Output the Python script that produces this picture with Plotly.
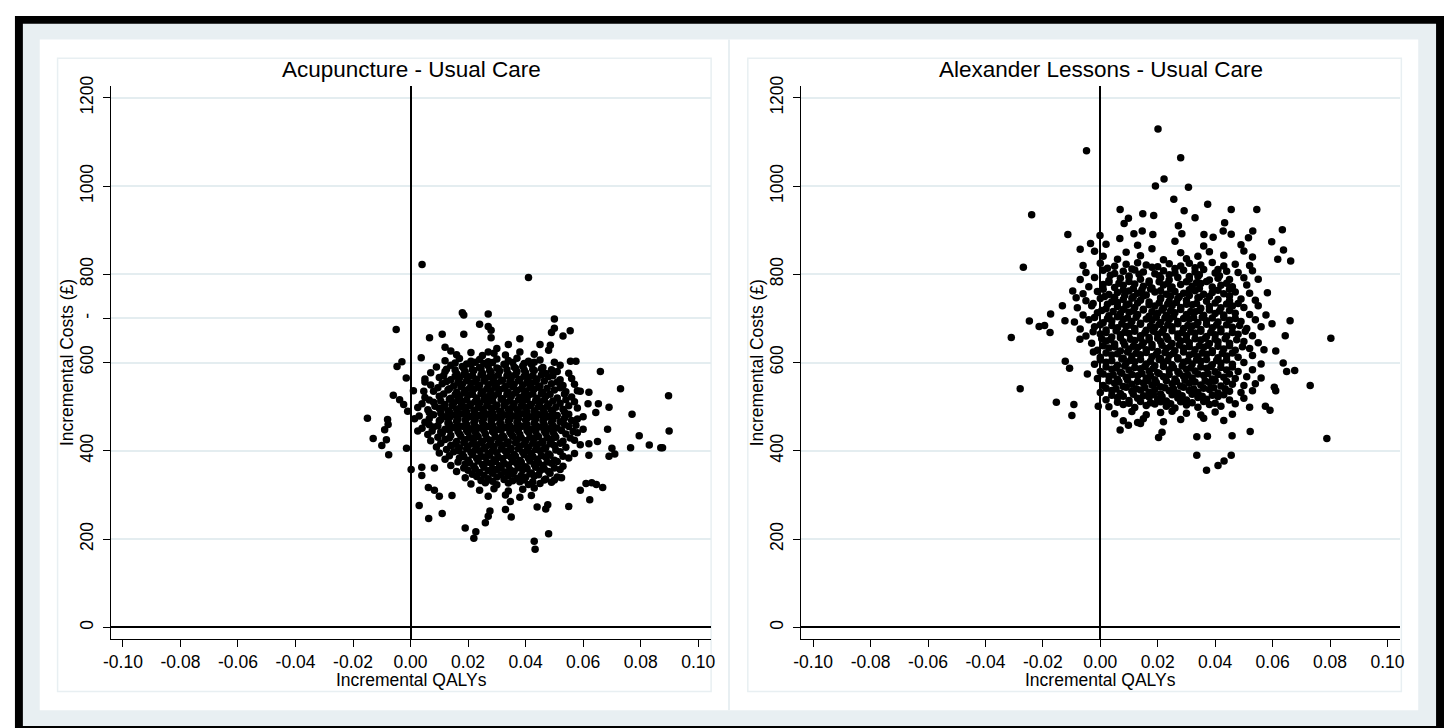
import plotly.graph_objects as go

# ---------------- data ----------------
x_tick_vals = [-0.10, -0.08, -0.06, -0.04, -0.02, 0.00, 0.02, 0.04, 0.06, 0.08, 0.10]
x_tick_text = ["-0.10", "-0.08", "-0.06", "-0.04", "-0.02", "0.00", "0.02", "0.04", "0.06", "0.08", "0.10"]
y_tick_vals_left = [0, 200, 400, 600, 700, 800, 1000, 1200]
y_tick_text_left = ["0", "200", "400", "600", "-", "800", "1000", "1200"]
y_tick_vals_right = [0, 200, 400, 600, 800, 1000, 1200]
y_tick_text_right = ["0", "200", "400", "600", "800", "1000", "1200"]

panel_titles = ["Acupuncture - Usual Care", "Alexander Lessons - Usual Care"]
x_title = "Incremental QALYs"
y_title = "Incremental Costs (£)"

# Acupuncture - Usual Care : incremental QALYs
acu_x = [
    0.016, 0.021, 0.025, 0.029, 0.033, 0.038, 0.043,
    0.012, 0.017, 0.021, 0.024, 0.027, 0.030, 0.034, 0.037, 0.041, 0.045, 0.050,
    0.009, 0.014, 0.018, 0.021, 0.024, 0.027, 0.030, 0.033, 0.036, 0.039, 0.042, 0.046, 0.052,
    0.007, 0.012, 0.016, 0.019, 0.022, 0.025, 0.028, 0.031, 0.034, 0.037, 0.040, 0.043, 0.047, 0.051, 0.055,
    0.005, 0.010, 0.014, 0.017, 0.020, 0.023, 0.026, 0.029, 0.032, 0.035, 0.038, 0.041, 0.044, 0.048, 0.052, 0.056,
    0.007, 0.011, 0.015, 0.018, 0.021, 0.024, 0.027, 0.030, 0.033, 0.036, 0.039, 0.042, 0.045, 0.049, 0.053, 0.057,
    0.008, 0.013, 0.016, 0.019, 0.022, 0.025, 0.028, 0.031, 0.034, 0.037, 0.040, 0.043, 0.046, 0.050, 0.054, 0.058,
    0.005, 0.010, 0.014, 0.017, 0.020, 0.023, 0.026, 0.029, 0.032, 0.035, 0.038, 0.041, 0.044, 0.047, 0.051, 0.056,
    0.004, 0.008, 0.012, 0.015, 0.018, 0.021, 0.024, 0.027, 0.030, 0.033, 0.036, 0.039, 0.042, 0.045, 0.048, 0.052, 0.057,
    0.006, 0.010, 0.013, 0.016, 0.019, 0.022, 0.025, 0.028, 0.031, 0.034, 0.037, 0.040, 0.043, 0.046, 0.049, 0.053, 0.058,
    0.003, 0.008, 0.012, 0.015, 0.018, 0.021, 0.024, 0.027, 0.030, 0.033, 0.036, 0.039, 0.042, 0.045, 0.048, 0.051, 0.055, 0.060,
    0.005, 0.010, 0.013, 0.016, 0.019, 0.022, 0.025, 0.028, 0.031, 0.034, 0.037, 0.040, 0.043, 0.046, 0.049, 0.052, 0.056,
    0.004, 0.008, 0.012, 0.015, 0.018, 0.021, 0.024, 0.027, 0.030, 0.033, 0.036, 0.039, 0.042, 0.045, 0.048, 0.051, 0.055, 0.060,
    0.006, 0.011, 0.014, 0.017, 0.020, 0.023, 0.026, 0.029, 0.032, 0.035, 0.038, 0.041, 0.044, 0.047, 0.050, 0.054, 0.058,
    0.007, 0.012, 0.016, 0.019, 0.022, 0.025, 0.028, 0.031, 0.034, 0.037, 0.040, 0.043, 0.046, 0.049, 0.053, 0.057,
    0.009, 0.014, 0.017, 0.020, 0.023, 0.026, 0.029, 0.032, 0.035, 0.038, 0.041, 0.044, 0.047, 0.050, 0.054,
    0.010, 0.015, 0.018, 0.021, 0.024, 0.027, 0.030, 0.033, 0.036, 0.039, 0.042, 0.045, 0.048, 0.052, 0.057,
    0.012, 0.017, 0.020, 0.023, 0.026, 0.029, 0.032, 0.035, 0.038, 0.041, 0.044, 0.047, 0.050, 0.055,
    0.014, 0.019, 0.022, 0.025, 0.028, 0.031, 0.034, 0.037, 0.040, 0.043, 0.046, 0.049, 0.053,
    0.016, 0.020, 0.024, 0.027, 0.030, 0.033, 0.036, 0.039, 0.042, 0.045, 0.048, 0.052,
    0.019, 0.023, 0.027, 0.030, 0.034, 0.037, 0.040, 0.043, 0.047, 0.051,
    0.021, 0.026, 0.030, 0.034, 0.038, 0.041, 0.045, 0.049,
    0.024, 0.029, 0.034, 0.039, 0.043,
    0.027, 0.033, 0.038, 0.042,
    # interleaved core
    0.0155, 0.0195, 0.0225, 0.0255, 0.0285, 0.0325, 0.0355, 0.0395, 0.043,
    0.0125, 0.0155, 0.0185, 0.0215, 0.0245, 0.0275, 0.0305, 0.0335, 0.0365, 0.0395, 0.0425, 0.0455, 0.049,
    0.0115, 0.0155, 0.0185, 0.0215, 0.0245, 0.0275, 0.0305, 0.0335, 0.0365, 0.0395, 0.0425, 0.0455, 0.0495,
    0.0125, 0.0165, 0.0195, 0.0225, 0.0255, 0.0285, 0.0315, 0.0345, 0.0375, 0.0405, 0.0435, 0.0465, 0.051,
    0.0095, 0.0135, 0.0175, 0.0205, 0.0235, 0.0265, 0.0295, 0.0325, 0.0355, 0.0385, 0.0415, 0.0445, 0.0475, 0.052,
    0.0115, 0.0155, 0.0185, 0.0215, 0.0245, 0.0275, 0.0305, 0.0335, 0.0365, 0.0395, 0.0425, 0.0455, 0.0485, 0.0535,
    0.0065, 0.0105, 0.0135, 0.0165, 0.0195, 0.0225, 0.0255, 0.0285, 0.0315, 0.0345, 0.0375, 0.0405, 0.0435, 0.0465, 0.0495, 0.054,
    0.0085, 0.0115, 0.0145, 0.0175, 0.0205, 0.0235, 0.0265, 0.0295, 0.0325, 0.0355, 0.0385, 0.0415, 0.0445, 0.0475, 0.0505, 0.055,
    0.0065, 0.0105, 0.0135, 0.0165, 0.0195, 0.0225, 0.0255, 0.0285, 0.0315, 0.0345, 0.0375, 0.0405, 0.0435, 0.0465, 0.0495, 0.0535,
    0.0065, 0.0105, 0.0135, 0.0165, 0.0195, 0.0225, 0.0255, 0.0285, 0.0315, 0.0345, 0.0375, 0.0405, 0.0435, 0.0465, 0.0495, 0.0535, 0.058,
    0.0065, 0.0095, 0.0135, 0.0165, 0.0195, 0.0225, 0.0255, 0.0285, 0.0315, 0.0345, 0.0375, 0.0405, 0.0435, 0.0465, 0.0495, 0.0535, 0.0575,
    0.0075, 0.0105, 0.0135, 0.0165, 0.0195, 0.0225, 0.0255, 0.0285, 0.0315, 0.0345, 0.0375, 0.0405, 0.0435, 0.0465, 0.0495, 0.0525, 0.0565,
    0.0095, 0.0135, 0.0175, 0.0205, 0.0235, 0.0265, 0.0295, 0.0325, 0.0355, 0.0385, 0.0415, 0.0445, 0.0475, 0.0505, 0.0555,
    0.0105, 0.0155, 0.0185, 0.0215, 0.0245, 0.0275, 0.0305, 0.0335, 0.0365, 0.0395, 0.0425, 0.0455, 0.0485, 0.052,
    0.0125, 0.0165, 0.0195, 0.0225, 0.0255, 0.0285, 0.0315, 0.0345, 0.0375, 0.0405, 0.0435, 0.0465, 0.0505,
    0.0135, 0.0185, 0.0215, 0.0245, 0.0275, 0.0305, 0.0335, 0.0365, 0.0395, 0.0425, 0.0455, 0.0485, 0.053,
    0.0165, 0.0205, 0.0235, 0.0265, 0.0295, 0.0325, 0.0355, 0.0385, 0.0415, 0.0445, 0.0475, 0.051,
    0.0185, 0.0225, 0.0255, 0.0285, 0.0315, 0.0345, 0.0375, 0.0405, 0.0435, 0.0465, 0.050,
    0.0215, 0.0255, 0.0285, 0.0315, 0.0355, 0.0385, 0.0415, 0.0445, 0.0485,
    0.0245, 0.0285, 0.0325, 0.0355, 0.0395, 0.0425, 0.0465,
    # scattered points
    0.004, 0.041, 0.018, 0.0185, 0.027, -0.005, 0.050, 0.050, 0.049, 0.053,
    0.0555, 0.024, 0.027, 0.028, 0.028, 0.0066, 0.011, 0.0185, 0.038, -0.003,
    -0.0047, 0.0037, -0.0015, -0.006, -0.015, -0.013, -0.010, -0.0076, -0.008, -0.0078,
    -0.009, -0.0084, -0.0038, -0.0024, -0.001, -0.0014, 0.0002, 0.066, 0.073, 0.0897,
    0.0899, 0.077, 0.0795, 0.0765, 0.083, 0.087, 0.0876, 0.069, 0.0685, 0.070,
    0.069, 0.071, 0.065, 0.0668, 0.0623, 0.059, 0.061, 0.063, 0.0646, 0.055,
    0.048, 0.043, 0.0433, 0.019, 0.0227, 0.022, 0.026, 0.027, 0.0276, 0.0063,
    0.011, 0.003, 0.0144, 0.010, 0.0062, 0.0083, 0.0039, 0.0039, 0.0083, 0.035,
    0.033, 0.0347, 0.044, 0.047, 0.0477, 0.050, 0.0525, 0.062, 0.059, 0.062,
    0.059, 0.062, 0.0617, 0.0644, 0.0653, 0.0575, 0.0556, 0.045, 0.0486, 0.048,
    0.034, 0.030, 0.027, 0.012, 0.014, 0.005, 0.0046, 0.001, 0.0025, 0.0014, 0.0025,
]
# Acupuncture - Usual Care : incremental costs (£)
acu_y = [
    618, 623, 616, 621, 617, 624, 619,
    604, 609, 603, 607, 602, 608, 605, 610, 603, 606, 601,
    590, 594, 591, 596, 589, 593, 588, 595, 590, 592, 596, 589, 594,
    577, 580, 575, 579, 582, 576, 578, 581, 574, 579, 577, 582, 575, 580, 576,
    563, 566, 561, 565, 568, 562, 564, 567, 560, 565, 562, 566, 563, 568, 561, 564,
    549, 552, 547, 551, 554, 548, 550, 553, 546, 551, 549, 554, 547, 552, 548, 551,
    535, 538, 533, 537, 540, 534, 536, 539, 532, 537, 535, 540, 533, 538, 534, 536,
    521, 524, 519, 523, 526, 520, 522, 525, 518, 523, 521, 526, 519, 524, 520, 522,
    507, 510, 505, 509, 512, 506, 508, 511, 504, 509, 507, 512, 505, 510, 506, 508, 511,
    493, 496, 491, 495, 498, 492, 494, 497, 490, 495, 493, 498, 491, 496, 492, 494, 497,
    479, 482, 477, 481, 484, 478, 480, 483, 476, 481, 479, 484, 477, 482, 478, 480, 483, 477,
    465, 468, 463, 467, 470, 464, 466, 469, 462, 467, 465, 470, 463, 468, 464, 466, 469,
    451, 454, 449, 453, 456, 450, 452, 455, 448, 453, 451, 456, 449, 454, 450, 452, 455, 449,
    437, 440, 435, 439, 442, 436, 438, 441, 434, 439, 437, 442, 435, 440, 436, 438, 441,
    423, 426, 421, 425, 428, 422, 424, 427, 420, 425, 423, 428, 421, 426, 422, 424,
    409, 412, 407, 411, 414, 408, 410, 413, 406, 411, 409, 414, 407, 412, 408,
    395, 398, 393, 397, 400, 394, 396, 399, 392, 397, 395, 400, 393, 398, 394,
    381, 384, 379, 383, 386, 380, 382, 385, 378, 383, 381, 386, 379, 384,
    367, 370, 365, 369, 372, 366, 368, 371, 364, 369, 367, 372, 365,
    353, 356, 351, 355, 358, 352, 354, 357, 350, 355, 353, 358,
    339, 342, 337, 341, 344, 338, 340, 343, 336, 341,
    325, 328, 323, 327, 330, 324, 326, 329,
    311, 314, 309, 313, 316,
    297, 300, 295, 299,
    # interleaved core
    599, 597, 601, 598, 600, 596, 600, 598, 601,
    585, 583, 587, 584, 586, 582, 586, 584, 587, 583, 585, 586, 584,
    571, 569, 573, 570, 572, 568, 572, 570, 573, 569, 571, 572, 570,
    557, 555, 559, 556, 558, 554, 558, 556, 559, 555, 557, 558, 556,
    543, 541, 545, 542, 544, 540, 544, 542, 545, 541, 543, 544, 542, 543,
    529, 527, 531, 528, 530, 526, 530, 528, 531, 527, 529, 530, 528, 529,
    515, 513, 517, 514, 516, 512, 516, 514, 517, 513, 515, 516, 514, 515, 513, 516,
    501, 499, 503, 500, 502, 498, 502, 500, 503, 499, 501, 502, 500, 501, 499, 502,
    487, 485, 489, 486, 488, 484, 488, 486, 489, 485, 487, 488, 486, 487, 485, 488,
    473, 471, 475, 472, 474, 470, 474, 472, 475, 471, 473, 474, 472, 473, 471, 474, 472,
    459, 457, 461, 458, 460, 456, 460, 458, 461, 457, 459, 460, 458, 459, 457, 460, 458,
    445, 443, 447, 444, 446, 442, 446, 444, 447, 443, 445, 446, 444, 445, 443, 446, 444,
    431, 429, 433, 430, 432, 428, 432, 430, 433, 429, 431, 432, 430, 431, 429,
    417, 415, 419, 416, 418, 414, 418, 416, 419, 415, 417, 418, 416, 417,
    403, 401, 405, 402, 404, 400, 404, 402, 405, 401, 403, 404, 402,
    389, 387, 391, 388, 390, 386, 390, 388, 391, 387, 389, 390, 388,
    375, 373, 377, 374, 376, 372, 376, 374, 377, 373, 375, 376,
    361, 359, 363, 360, 362, 358, 362, 360, 363, 359, 361,
    347, 345, 349, 346, 348, 344, 348, 346, 349,
    333, 331, 335, 332, 334, 330, 334,
    # scattered points
    822, 793, 713, 708, 710, 675, 699, 678, 668, 660,
    672, 687, 682, 673, 656, 656, 664, 664, 654, 602,
    591, 611, 565, 526, 474, 428, 412, 391, 471, 460,
    448, 425, 516, 505, 490, 406, 358, 580, 541, 525,
    445, 483, 434, 407, 413, 407, 407, 499, 449, 406,
    388, 393, 421, 317, 289, 311, 326, 328, 324, 274,
    212, 195, 177, 225, 217, 202, 237, 252, 264, 247,
    258, 276, 299, 297, 317, 311, 363, 344, 361, 250,
    267, 285, 273, 268, 278, 334, 339, 390, 414, 416,
    535, 533, 507, 487, 507, 603, 603, 641, 639, 628,
    641, 632, 624, 635, 626, 556, 535, 536, 498, 473, 445,
]

# Alexander Lessons - Usual Care : incremental QALYs
alx_x = [
    0.002, 0.013, 0.026, 0.036, 0.049,
    -0.002, 0.009, 0.018, 0.028, 0.038, 0.050,
    0.001, 0.006, 0.014, 0.022, 0.030, 0.034, 0.043, 0.053,
    -0.006, 0.000, 0.005, 0.009, 0.013, 0.016, 0.020, 0.024, 0.028, 0.031, 0.035, 0.039, 0.043, 0.047, 0.052,
    -0.005, 0.001, 0.005, 0.008, 0.012, 0.015, 0.019, 0.022, 0.026, 0.029, 0.033, 0.036, 0.040, 0.044, 0.048, 0.053,
    -0.007, -0.002, 0.003, 0.007, 0.010, 0.014, 0.017, 0.021, 0.024, 0.027, 0.031, 0.034, 0.038, 0.041, 0.045, 0.050, 0.055,
    -0.004, 0.001, 0.005, 0.008, 0.012, 0.015, 0.018, 0.022, 0.025, 0.028, 0.032, 0.035, 0.039, 0.042, 0.046, 0.051,
    -0.006, -0.001, 0.003, 0.006, 0.010, 0.013, 0.016, 0.019, 0.023, 0.026, 0.029, 0.033, 0.036, 0.039, 0.043, 0.047, 0.052,
    -0.005, 0.000, 0.004, 0.008, 0.011, 0.014, 0.017, 0.021, 0.024, 0.027, 0.030, 0.034, 0.037, 0.041, 0.045, 0.049, 0.054,
    -0.008, -0.003, 0.002, 0.006, 0.009, 0.012, 0.015, 0.019, 0.022, 0.025, 0.028, 0.032, 0.035, 0.038, 0.042, 0.046, 0.050, 0.055,
    -0.006, -0.001, 0.003, 0.007, 0.010, 0.013, 0.017, 0.020, 0.023, 0.026, 0.030, 0.033, 0.036, 0.040, 0.043, 0.047, 0.052,
    -0.009, -0.004, 0.001, 0.004, 0.008, 0.011, 0.014, 0.018, 0.021, 0.024, 0.027, 0.031, 0.034, 0.037, 0.041, 0.045, 0.049, 0.054,
    -0.007, -0.002, 0.002, 0.006, 0.009, 0.012, 0.016, 0.019, 0.022, 0.025, 0.029, 0.032, 0.035, 0.039, 0.042, 0.046, 0.051, 0.056,
    -0.005, 0.000, 0.004, 0.007, 0.010, 0.014, 0.017, 0.020, 0.023, 0.027, 0.030, 0.033, 0.037, 0.040, 0.044, 0.048, 0.053,
    -0.003, 0.002, 0.005, 0.008, 0.012, 0.015, 0.018, 0.021, 0.025, 0.028, 0.031, 0.035, 0.038, 0.041, 0.045, 0.050, 0.055,
    -0.001, 0.003, 0.007, 0.010, 0.013, 0.016, 0.020, 0.023, 0.026, 0.029, 0.033, 0.036, 0.039, 0.043, 0.047, 0.052, 0.057,
    0.000, 0.004, 0.008, 0.011, 0.014, 0.018, 0.021, 0.024, 0.027, 0.031, 0.034, 0.037, 0.041, 0.044, 0.048, 0.053,
    -0.002, 0.002, 0.006, 0.009, 0.012, 0.016, 0.019, 0.022, 0.025, 0.029, 0.032, 0.035, 0.039, 0.042, 0.046, 0.050, 0.056,
    0.000, 0.004, 0.007, 0.010, 0.014, 0.017, 0.020, 0.024, 0.027, 0.030, 0.033, 0.037, 0.040, 0.044, 0.048, 0.053,
    -0.001, 0.003, 0.006, 0.009, 0.013, 0.016, 0.019, 0.022, 0.026, 0.029, 0.032, 0.036, 0.039, 0.043, 0.047, 0.051, 0.056,
    0.001, 0.005, 0.008, 0.011, 0.015, 0.018, 0.021, 0.025, 0.028, 0.031, 0.035, 0.038, 0.042, 0.046, 0.050, 0.054,
    0.000, 0.004, 0.007, 0.011, 0.014, 0.017, 0.021, 0.024, 0.027, 0.031, 0.034, 0.038, 0.041, 0.045, 0.049, 0.053,
    0.002, 0.006, 0.010, 0.013, 0.017, 0.020, 0.023, 0.027, 0.030, 0.034, 0.037, 0.041, 0.045, 0.050,
    0.003, 0.008, 0.012, 0.016, 0.019, 0.023, 0.026, 0.030, 0.034, 0.038, 0.042, 0.047, 0.052,
    0.005, 0.011, 0.016, 0.021, 0.025, 0.030, 0.035, 0.040, 0.046,
    0.008, 0.015, 0.022, 0.028, 0.036, 0.043,
    # interleaved core
    0.0025, 0.0110, 0.0180, 0.0260, 0.0330, 0.0410,
    0.0035, 0.0100, 0.0135, 0.0205, 0.0240, 0.0310, 0.0345, 0.0415,
    0.0030, 0.0065, 0.0100, 0.0170, 0.0205, 0.0235, 0.0300, 0.0335, 0.0370, 0.0440,
    0.0010, 0.0080, 0.0115, 0.0145, 0.0175, 0.0210, 0.0245, 0.0310, 0.0345, 0.0410, 0.0450,
    0.0015, 0.0050, 0.0085, 0.0115, 0.0150, 0.0210, 0.0245, 0.0275, 0.0310, 0.0345, 0.0380, 0.0450,
    -0.0025, 0.0025, 0.0060, 0.0100, 0.0130, 0.0170, 0.0205, 0.0235, 0.0265, 0.0300, 0.0335, 0.0400, 0.0440, 0.0480,
    0.0005, 0.0045, 0.0080, 0.0115, 0.0150, 0.0180, 0.0215, 0.0245, 0.0280, 0.0315, 0.0345, 0.0380, 0.0415, 0.0450,
    -0.0020, 0.0025, 0.0060, 0.0095, 0.0125, 0.0160, 0.0195, 0.0225, 0.0255, 0.0290, 0.0325, 0.0355, 0.0390, 0.0430, 0.0470,
    0.0000, 0.0040, 0.0075, 0.0105, 0.0140, 0.0175, 0.0205, 0.0235, 0.0270, 0.0305, 0.0335, 0.0370, 0.0405, 0.0440, 0.0485,
    -0.0025, 0.0020, 0.0055, 0.0085, 0.0120, 0.0155, 0.0185, 0.0215, 0.0250, 0.0285, 0.0315, 0.0350, 0.0385, 0.0420, 0.0460, 0.0505,
    0.0005, 0.0035, 0.0070, 0.0105, 0.0140, 0.0170, 0.0200, 0.0235, 0.0270, 0.0300, 0.0330, 0.0365, 0.0400, 0.0435, 0.0475,
    0.0010, 0.0050, 0.0085, 0.0115, 0.0145, 0.0180, 0.0215, 0.0245, 0.0275, 0.0310, 0.0345, 0.0375, 0.0410, 0.0450, 0.0495,
    0.0020, 0.0060, 0.0095, 0.0125, 0.0160, 0.0195, 0.0225, 0.0255, 0.0290, 0.0325, 0.0355, 0.0390, 0.0425, 0.0460,
    0.0000, 0.0040, 0.0075, 0.0105, 0.0140, 0.0175, 0.0205, 0.0235, 0.0270, 0.0305, 0.0335, 0.0370, 0.0405, 0.0440,
    0.0020, 0.0055, 0.0085, 0.0120, 0.0155, 0.0185, 0.0220, 0.0255, 0.0285, 0.0315, 0.0350, 0.0385, 0.0420, 0.0460,
    0.0010, 0.0045, 0.0075, 0.0110, 0.0145, 0.0175, 0.0205, 0.0240, 0.0275, 0.0305, 0.0340, 0.0375, 0.0410, 0.0450,
    0.0030, 0.0065, 0.0095, 0.0130, 0.0165, 0.0195, 0.0230, 0.0265, 0.0295, 0.0330, 0.0365, 0.0400, 0.0440,
    0.0020, 0.0055, 0.0090, 0.0125, 0.0155, 0.0190, 0.0225, 0.0255, 0.0290, 0.0325, 0.0360, 0.0395, 0.0435,
    0.0040, 0.0080, 0.0115, 0.0150, 0.0185, 0.0215, 0.0250, 0.0285, 0.0320, 0.0355, 0.0390, 0.0430,
    0.0060, 0.0100, 0.0140, 0.0175, 0.0210, 0.0245, 0.0280, 0.0320, 0.0360, 0.0400,
    # scattered points
    0.0201, -0.0048, 0.0280, 0.0222, 0.0192, 0.0307, 0.0256, -0.0239, 0.0069, 0.0374,
    0.0456, 0.0545, 0.0292, 0.0148, 0.0186, 0.0330, 0.0098, 0.0083, 0.0433, 0.0634,
    -0.0113, -0.0001, 0.0068, 0.0117, 0.0146, 0.0183, 0.0272, 0.0284, 0.0456, 0.0428,
    0.0531, 0.0516, 0.0361, 0.0393, 0.0597, 0.0638, 0.0618, 0.0663, -0.0034, -0.0070,
    -0.0268, -0.0132, -0.0173, -0.0247, -0.0213, -0.0194, -0.0175, -0.0310, -0.0123, -0.0096,
    -0.0084, 0.0803, 0.0789, 0.0731, 0.0644, 0.0661, 0.0677, 0.0649, 0.0637, 0.0582,
    0.0577, 0.0598, 0.0611, 0.0606, 0.0611, 0.0591, 0.0575, 0.0522, 0.0459, 0.0373,
    0.0336, 0.0336, 0.0370, 0.0410, 0.0431, 0.0456, 0.0203, 0.0215, 0.0069, 0.0098,
    0.0130, 0.0140, -0.0153, -0.0092, -0.0099, -0.0007, -0.0279, -0.0045, -0.0122, -0.0107,
    -0.0024, -0.0071,
]
# Alexander Lessons - Usual Care : incremental costs (£)
alx_y = [
    868, 866, 875, 864, 867,
    852, 850, 858, 849, 851, 853,
    841, 834, 842, 833, 835, 841, 843, 839,
    820, 825, 818, 823, 826, 821, 817, 824, 819, 825, 821, 827, 819, 823, 820,
    804, 809, 802, 807, 810, 805, 801, 808, 803, 809, 805, 811, 803, 807, 804, 808,
    788, 793, 786, 791, 794, 789, 785, 792, 787, 793, 789, 795, 787, 791, 788, 792, 789,
    772, 777, 770, 775, 778, 773, 769, 776, 771, 777, 773, 779, 771, 775, 772, 776,
    756, 761, 754, 759, 762, 757, 753, 760, 755, 761, 757, 763, 755, 759, 756, 760, 757,
    740, 745, 738, 743, 746, 741, 737, 744, 739, 745, 741, 747, 739, 743, 740, 744, 741,
    724, 729, 722, 727, 730, 725, 721, 728, 723, 729, 725, 731, 723, 727, 724, 728, 725, 729,
    708, 713, 706, 711, 714, 709, 705, 712, 707, 713, 709, 715, 707, 711, 708, 712, 709,
    692, 697, 690, 695, 698, 693, 689, 696, 691, 697, 693, 699, 691, 695, 692, 696, 693, 697,
    676, 681, 674, 679, 682, 677, 673, 680, 675, 681, 677, 683, 675, 679, 676, 680, 677, 681,
    660, 665, 658, 663, 666, 661, 657, 664, 659, 665, 661, 667, 659, 663, 660, 664, 661,
    644, 649, 642, 647, 650, 645, 641, 648, 643, 649, 645, 651, 643, 647, 644, 648, 645,
    628, 633, 626, 631, 634, 629, 625, 632, 627, 633, 629, 635, 627, 631, 628, 632, 629,
    612, 617, 610, 615, 618, 613, 609, 616, 611, 617, 613, 619, 611, 615, 612, 616,
    596, 601, 594, 599, 602, 597, 593, 600, 595, 601, 597, 603, 595, 599, 596, 600, 597,
    580, 585, 578, 583, 586, 581, 577, 584, 579, 585, 581, 587, 579, 583, 580, 584,
    564, 569, 562, 567, 570, 565, 561, 568, 563, 569, 565, 571, 563, 567, 564, 568, 565,
    548, 553, 546, 551, 554, 549, 545, 552, 547, 553, 549, 555, 547, 551, 548, 552,
    532, 537, 530, 535, 538, 533, 529, 536, 531, 537, 533, 539, 531, 535, 532, 536,
    516, 521, 514, 519, 522, 517, 513, 520, 515, 521, 517, 523, 515, 519,
    500, 505, 498, 503, 506, 501, 497, 504, 499, 505, 501, 507, 499,
    484, 489, 482, 487, 490, 485, 481, 488, 483,
    468, 473, 466, 471, 474, 469,
    # interleaved core
    814, 812, 816, 813, 815, 811,
    798, 796, 800, 797, 799, 795, 799, 797,
    782, 780, 784, 781, 783, 779, 783, 781, 784, 780,
    766, 764, 768, 765, 767, 763, 767, 765, 768, 764, 766,
    750, 748, 752, 749, 751, 747, 751, 749, 752, 748, 750, 751,
    734, 732, 736, 733, 735, 731, 735, 733, 736, 732, 734, 735, 733, 734,
    718, 716, 720, 717, 719, 715, 719, 717, 720, 716, 718, 719, 717, 718,
    702, 700, 704, 701, 703, 699, 703, 701, 704, 700, 702, 703, 701, 702, 700,
    686, 684, 688, 685, 687, 683, 687, 685, 688, 684, 686, 687, 685, 686, 684,
    670, 668, 672, 669, 671, 667, 671, 669, 672, 668, 670, 671, 669, 670, 668, 671,
    654, 652, 656, 653, 655, 651, 655, 653, 656, 652, 654, 655, 653, 654, 652,
    638, 636, 640, 637, 639, 635, 639, 637, 640, 636, 638, 639, 637, 638, 636,
    622, 620, 624, 621, 623, 619, 623, 621, 624, 620, 622, 623, 621, 622,
    606, 604, 608, 605, 607, 603, 607, 605, 608, 604, 606, 607, 605, 606,
    590, 588, 592, 589, 591, 587, 591, 589, 592, 588, 590, 591, 589, 590,
    574, 572, 576, 573, 575, 571, 575, 573, 576, 572, 574, 575, 573, 574,
    558, 556, 560, 557, 559, 555, 559, 557, 560, 556, 558, 559, 557,
    542, 540, 544, 541, 543, 539, 543, 541, 544, 540, 542, 543, 541,
    526, 524, 528, 525, 527, 523, 527, 525, 528, 524, 526, 527,
    510, 508, 512, 509, 511, 507, 511, 509, 512, 508,
    # scattered points
    1129, 1080, 1064, 1016, 1000, 997, 970, 935, 947, 959,
    947, 947, 944, 937, 933, 928, 927, 915, 917, 901,
    890, 888, 881, 892, 898, 890, 910, 892, 891, 898,
    898, 883, 890, 884, 874, 855, 834, 830, 870, 857,
    816, 729, 710, 694, 682, 684, 668, 657, 695, 762,
    747, 655, 428, 548, 661, 695, 582, 580, 599, 758,
    708, 688, 626, 544, 536, 492, 501, 444, 434, 433,
    432, 390, 356, 367, 377, 390, 430, 442, 447, 458,
    464, 462, 510, 505, 480, 501, 541, 574, 603, 587,
    624, 653,
]

assert len(acu_x) == len(acu_y), (len(acu_x), len(acu_y))
assert len(alx_x) == len(alx_y), (len(alx_x), len(alx_y))

# ---------------- layout helpers (pixel -> paper, for a 1448x728 page) ----------------
W, H = 1448, 728
def px(v):
    return v / W
def py(v):
    return 1 - v / H

FONT = "Liberation Sans, Arial, Helvetica, sans-serif"
LIGHT = "#e8eff2"
GRID = "#e4edf0"

fig = go.Figure()
marker = dict(color="black", size=7.5, line=dict(width=0))
fig.add_trace(go.Scatter(x=acu_x, y=acu_y, mode="markers", marker=marker,
                         xaxis="x", yaxis="y", showlegend=False, hoverinfo="skip"))
fig.add_trace(go.Scatter(x=alx_x, y=alx_y, mode="markers", marker=marker,
                         xaxis="x2", yaxis="y2", showlegend=False, hoverinfo="skip"))

x_range = [-0.1041, 0.1045]
y_range = [-26.8, 1226.8]

def xaxis(domain, anchor):
    return dict(domain=domain, anchor=anchor, range=x_range, tickmode="array",
                tickvals=x_tick_vals, ticktext=x_tick_text, ticks="outside", ticklen=7,
                tickwidth=1.3, tickcolor="black", showline=True, linecolor="black",
                linewidth=1.3, showgrid=False, zeroline=True, zerolinecolor="black",
                zerolinewidth=1.6, tickfont=dict(family=FONT, size=17.5, color="black"),
                fixedrange=True)

def yaxis(domain, anchor, vals, text):
    return dict(domain=domain, anchor=anchor, range=y_range, tickmode="array",
                tickvals=vals, ticktext=text, tickangle=-90, ticks="outside", ticklen=7,
                tickwidth=1.3, tickcolor="black", showline=True, linecolor="black",
                linewidth=1.3, showgrid=True, gridcolor=GRID, gridwidth=1.5,
                zeroline=True, zerolinecolor="black", zerolinewidth=1.6,
                ticklabelstandoff=3,
                tickfont=dict(family=FONT, size=17.5, color="black"), fixedrange=True)

ydom = [py(638), py(77)]
fig.update_layout(
    autosize=True,
    margin=dict(l=0, r=0, t=0, b=0, pad=0),
    paper_bgcolor="white", plot_bgcolor="white",
    xaxis=xaxis([px(104), px(709)], "y"),
    yaxis=yaxis(ydom, "x", y_tick_vals_left, y_tick_text_left),
    xaxis2=xaxis([px(800), px(1404)], "y2"),
    yaxis2=yaxis(ydom, "x2", y_tick_vals_right, y_tick_text_right),
    font=dict(family=FONT, color="black"),
)

shapes = [
    dict(type="rect", xref="paper", yref="paper", x0=px(7), x1=px(1448), y0=py(728), y1=py(6),
         fillcolor="black", line=dict(width=0), layer="below"),
    dict(type="rect", xref="paper", yref="paper", x0=px(15), x1=px(1440), y0=py(726), y1=py(14),
         fillcolor=LIGHT, line=dict(width=0), layer="below"),
    dict(type="rect", xref="paper", yref="paper", x0=px(32), x1=px(1422), y0=py(710), y1=py(30),
         fillcolor="white", line=dict(width=0), layer="below"),
    dict(type="line", xref="paper", yref="paper", x0=px(727), x1=px(727), y0=py(710), y1=py(30),
         line=dict(color=LIGHT, width=2), layer="below"),
    dict(type="rect", xref="paper", yref="paper", x0=px(50), x1=px(709), y0=py(691), y1=py(49),
         line=dict(color=LIGHT, width=1.5), layer="below"),
    dict(type="rect", xref="paper", yref="paper", x0=px(746), x1=px(1405), y0=py(691), y1=py(49),
         line=dict(color=LIGHT, width=1.5), layer="below"),
]
fig.update_layout(shapes=shapes)

annotations = []
for cx, ttl in zip([406.5, 1102], panel_titles):
    annotations.append(dict(text=ttl, xref="paper", yref="paper", x=px(cx), y=py(60),
                            xanchor="center", yanchor="middle", showarrow=False,
                            font=dict(family=FONT, size=22.5, color="black")))
    annotations.append(dict(text=x_title, xref="paper", yref="paper", x=px(cx), y=py(679),
                            xanchor="center", yanchor="middle", showarrow=False,
                            font=dict(family=FONT, size=17.5, color="black")))
for cx in [59, 755]:
    annotations.append(dict(text=y_title, xref="paper", yref="paper", x=px(cx), y=py(357.5),
                            xanchor="center", yanchor="middle", showarrow=False, textangle=-90,
                            font=dict(family=FONT, size=17.5, color="black")))
fig.update_layout(annotations=annotations)

fig.write_html(
    "out.html",
    config={"displayModeBar": False, "responsive": True},
    default_width="100vw",
    default_height="100vh",
    post_script=["document.documentElement.style.margin='0';document.body.style.margin='0';"
                 "document.body.style.overflow='hidden';document.documentElement.style.overflow='hidden';"
                 "Plotly.Plots.resize(document.getElementById('{plot_id}'));"],
)
